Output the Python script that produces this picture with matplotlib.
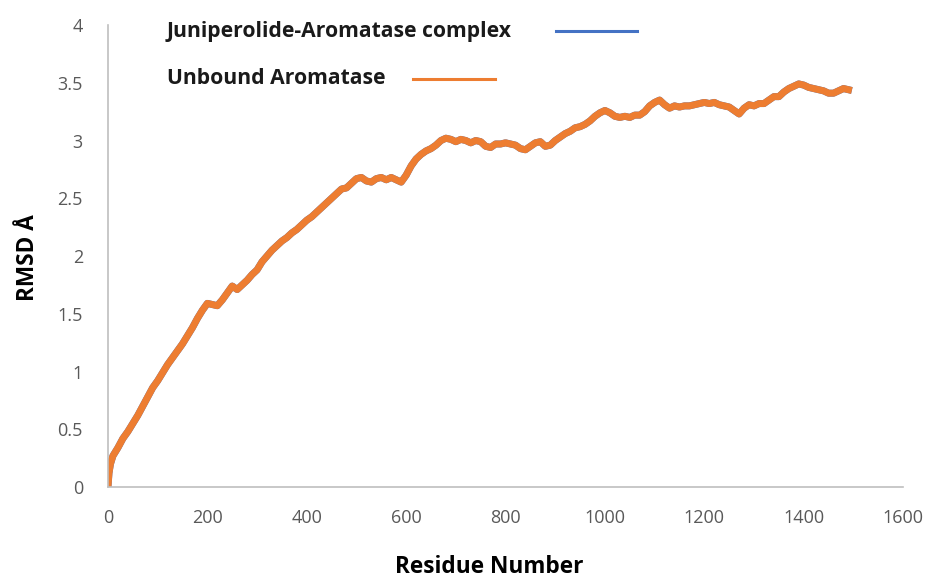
import matplotlib
matplotlib.use("Agg")
import matplotlib.pyplot as plt
from matplotlib.lines import Line2D

plt.rcParams['font.family'] = ['Open Sans', 'DejaVu Sans']

residue = [0, 2, 5] + list(range(10, 1500, 10))
rmsd_unbound = [
    0.00, 0.12, 0.20,
    0.27, 0.34, 0.42, 0.48, 0.55, 0.62, 0.70, 0.78, 0.86, 0.92,
    0.99, 1.06, 1.12, 1.18, 1.24, 1.31, 1.38, 1.46, 1.53, 1.59,
    1.58, 1.57, 1.62, 1.68, 1.74, 1.71, 1.75, 1.79, 1.84, 1.88,
    1.95, 2.00, 2.05, 2.09, 2.13, 2.16, 2.20, 2.23, 2.27, 2.31,
    2.34, 2.38, 2.42, 2.46, 2.50, 2.54, 2.58, 2.59, 2.63, 2.67,
    2.68, 2.65, 2.64, 2.67, 2.68, 2.66, 2.68, 2.66, 2.64, 2.70,
    2.78, 2.84, 2.88, 2.91, 2.93, 2.96, 3.00, 3.02, 3.01, 2.99,
    3.01, 3.00, 2.98, 3.00, 2.99, 2.95, 2.94, 2.97, 2.97, 2.98,
    2.97, 2.96, 2.93, 2.92, 2.95, 2.98, 2.99, 2.95, 2.96, 3.00,
    3.03, 3.06, 3.08, 3.11, 3.12, 3.14, 3.17, 3.21, 3.24, 3.26,
    3.24, 3.21, 3.20, 3.21, 3.20, 3.22, 3.22, 3.25, 3.30, 3.33,
    3.35, 3.31, 3.28, 3.30, 3.29, 3.30, 3.30, 3.31, 3.32, 3.33,
    3.32, 3.33, 3.31, 3.30, 3.29, 3.26, 3.23, 3.28, 3.31, 3.30,
    3.32, 3.32, 3.35, 3.38, 3.38, 3.42, 3.45, 3.47, 3.49, 3.48,
    3.46, 3.45, 3.44, 3.43, 3.41, 3.41, 3.43, 3.45, 3.44,
]
# complex series lies hidden beneath the unbound trace in the reference
rmsd_complex = list(rmsd_unbound)

labels = ["Juniperolide-Aromatase complex", "Unbound Aromatase"]
colors = ["#4472C4", "#ED7D31"]

fig = plt.figure(figsize=(9.3, 5.78), dpi=100)
ax = fig.add_axes([0.1161, 0.1574, 0.855, 0.7993])

ax.plot(residue, rmsd_complex, color=colors[0], lw=5, solid_joinstyle='round')
ax.plot(residue, rmsd_unbound, color=colors[1], lw=5, solid_joinstyle='round')

ax.set_xlim(0, 1600)
ax.set_ylim(0, 4)
ax.set_xticks(range(0, 1601, 200))
ax.set_yticks([0, 0.5, 1, 1.5, 2, 2.5, 3, 3.5, 4])
ax.set_yticklabels(["0", "0.5", "1", "1.5", "2", "2.5", "3", "3.5", "4"])
ax.tick_params(length=0, labelsize=13, labelcolor="#595959")
ax.tick_params(axis='x', pad=16)
ax.tick_params(axis='y', pad=18)
for s in ["top", "right"]:
    ax.spines[s].set_visible(False)
for s in ["left", "bottom"]:
    ax.spines[s].set_color("#BFBFBF")
    ax.spines[s].set_linewidth(1.2)

fig.text(489/930, 1 - 567/578, "Residue Number", ha='center', va='center',
         fontsize=16.3, fontweight='bold', color='black')
fig.text(28/930, 1 - 258/578, "RMSD Å", ha='center', va='center',
         rotation=90, fontsize=16.3, fontweight='bold', color='black')

# legend drawn manually: labels left, sample lines right
fig.text(167/930, 1 - 31/578, labels[0], ha='left', va='center',
         fontsize=15.2, fontweight='bold', color='#1a1a1a')
fig.text(167/930, 1 - 79/578, labels[1], ha='left', va='center',
         fontsize=15.2, fontweight='bold', color='#1a1a1a')
fig.add_artist(Line2D([556/930, 637/930], [1 - 31/578, 1 - 31/578],
                      color=colors[0], lw=2.2, transform=fig.transFigure))
fig.add_artist(Line2D([413/930, 495/930], [1 - 79/578, 1 - 79/578],
                      color=colors[1], lw=2.2, transform=fig.transFigure))

fig.savefig("out.png", dpi=100)
